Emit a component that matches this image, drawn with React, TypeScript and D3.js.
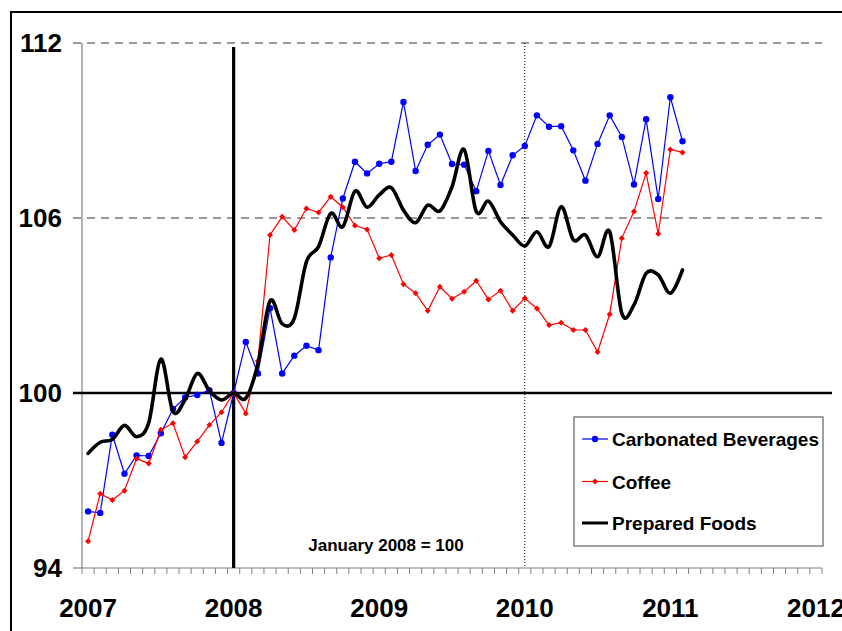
import React from "react";
import * as d3 from "d3";

const years = ["2007", "2008", "2009", "2010", "2011", "2012"];
const yTicks = [94, 100, 106, 112];
const gridValues = [106, 112];

// Monthly series, Jan 2007 .. Feb 2011 (January 2008 = 100)
const carbonated = [
  95.94, 95.89, 98.57, 97.23, 97.86, 97.84, 98.62, 99.45, 99.85, 99.93,
  100.1, 98.29, 100.0, 101.75, 100.67, 102.91, 100.67, 101.28, 101.62, 101.47,
  104.65, 106.67, 107.93, 107.53, 107.86, 107.93, 109.98, 107.61, 108.51, 108.86,
  107.85, 107.83, 106.92, 108.3, 107.13, 108.15, 108.47, 109.52, 109.13, 109.15,
  108.32, 107.28, 108.54, 109.52, 108.78, 107.15, 109.39, 106.65, 110.14, 108.63,
];
const coffee = [
  94.92, 96.55, 96.33, 96.65, 97.75, 97.58, 98.74, 98.96, 97.8, 98.34,
  98.9, 99.34, 100.0, 99.3, 101.1, 105.42, 106.04, 105.59, 106.33, 106.19,
  106.73, 106.37, 105.74, 105.61, 104.62, 104.73, 103.73, 103.42, 102.82, 103.64,
  103.23, 103.47, 103.85, 103.21, 103.51, 102.82, 103.25, 102.9, 102.33, 102.41,
  102.16, 102.16, 101.41, 102.7, 105.31, 106.22, 107.54, 105.46, 108.35, 108.25,
];
const prepared = [
  97.93, 98.31, 98.41, 98.89, 98.5, 98.98, 101.16, 99.36, 99.78, 100.67,
  100.08, 99.76, 100.0, 99.82, 101.0, 103.16, 102.37, 102.56, 104.5, 105.02,
  106.16, 105.7, 106.92, 106.37, 106.79, 107.04, 106.27, 105.84, 106.44, 106.24,
  107.07, 108.35, 106.22, 106.58, 105.87, 105.42, 105.04, 105.53, 105.02, 106.39,
  105.25, 105.42, 104.67, 105.53, 102.73, 103.02, 104.1, 104.05, 103.42, 104.22,
];

const seriesNames = ["Carbonated Beverages", "Coffee", "Prepared Foods"];
const noteText = "January 2008 = 100";

const months = d3.timeMonths(new Date(2007, 0, 1), new Date(2012, 1, 1)); // 61 categories
const monthKeys = months.map((_, i) => String(i));

const FONT = "'Liberation Sans', Arial, sans-serif";

export default function App() {
  const left = 82, right = 822, top = 43, bottom = 568;
  const x = d3.scaleBand<string>().domain(monthKeys).range([left, right]).padding(0);
  const bw = x.bandwidth();
  const cx = (i: number) => (x(String(i)) as number) + bw / 2;
  const y = d3.scaleLinear().domain([94, 112]).range([bottom, top]);

  const lineGen = d3.line<number>().x((_, i) => cx(i)).y((v) => y(v));
  const smoothGen = d3
    .line<number>()
    .x((_, i) => cx(i))
    .y((v) => y(v))
    .curve(d3.curveCardinal.tension(0));

  const diamond = d3.symbol().type(d3.symbolSquare).size(18)() as string;

  const tickXs = monthKeys.map((k) => x(k) as number).concat([right]);
  const jan08 = cx(12);
  const jan10 = cx(36);

  const legX = 574, legY = 417, legW = 249, legH = 129;
  const legRows = [439, 481.5, 523];

  return (
    <svg
      width={842}
      height={631}
      style={{ position: "absolute", left: 0, top: 0, background: "#fff" }}
      fontFamily={FONT}
    >
      <rect x={0} y={0} width={842} height={631} fill="#fff" />
      {/* outer frame */}
      <rect x={11} y={12} width={840} height={630} fill="none" stroke="#000" strokeWidth={2} />

      {/* dashed gridlines */}
      {gridValues.map((v) => (
        <line key={v} x1={73} x2={right} y1={y(v)} y2={y(v)} stroke="#333" strokeWidth={1} strokeDasharray="8,6" />
      ))}

      {/* y axis */}
      <line x1={left} x2={left} y1={top} y2={bottom} stroke="#808080" strokeWidth={1.2} />
      <line x1={73} x2={left} y1={y(94)} y2={y(94)} stroke="#808080" strokeWidth={1.2} />
      {yTicks.map((v) => (
        <text key={v} x={62} y={y(v) + 9} textAnchor="end" fontSize={26} fontWeight="bold" fill="#000">
          {v}
        </text>
      ))}

      {/* x axis */}
      <line x1={left} x2={right} y1={bottom} y2={bottom} stroke="#808080" strokeWidth={1.2} />
      {tickXs.map((tx, i) => (
        <line key={i} x1={tx} x2={tx} y1={bottom} y2={bottom + 6} stroke="#808080" strokeWidth={1} />
      ))}
      {years.map((yr, i) => (
        <text key={yr} x={cx(i * 12)} y={617} textAnchor="middle" fontSize={26} fontWeight="bold" fill="#000">
          {yr}
        </text>
      ))}

      {/* reference lines */}
      <line x1={jan10} x2={jan10} y1={top} y2={bottom} stroke="#000" strokeWidth={1} strokeDasharray="1,2" />
      <line x1={73} x2={832} y1={y(100)} y2={y(100)} stroke="#000" strokeWidth={2.5} />
      <line x1={jan08} x2={jan08} y1={47} y2={bottom} stroke="#000" strokeWidth={3.2} />

      {/* series */}
      <path d={lineGen(carbonated) as string} fill="none" stroke="#0000ff" strokeWidth={1.2} />
      {carbonated.map((v, i) => (
        <circle key={"c" + i} cx={cx(i)} cy={y(v)} r={3.2} fill="#0000ff" />
      ))}
      <path d={lineGen(coffee) as string} fill="none" stroke="#ff0000" strokeWidth={1.2} />
      {coffee.map((v, i) => (
        <path key={"f" + i} d={diamond} transform={`translate(${cx(i)},${y(v)}) rotate(45)`} fill="#ff0000" />
      ))}
      <path d={smoothGen(prepared) as string} fill="none" stroke="#000" strokeWidth={3.6} strokeLinejoin="round" strokeLinecap="round" />

      {/* note */}
      <text x={386} y={551} textAnchor="middle" fontSize={17} fontWeight="bold" fill="#000">
        {noteText}
      </text>

      {/* legend */}
      <rect x={legX} y={legY} width={legW} height={legH} fill="#fff" stroke="#808080" strokeWidth={1.5} />
      <line x1={582} x2={608} y1={legRows[0]} y2={legRows[0]} stroke="#0000ff" strokeWidth={1.2} />
      <circle cx={595} cy={legRows[0]} r={3.2} fill="#0000ff" />
      <line x1={582} x2={608} y1={legRows[1]} y2={legRows[1]} stroke="#ff0000" strokeWidth={1.2} />
      <path d={diamond} transform={`translate(595,${legRows[1]}) rotate(45)`} fill="#ff0000" />
      <line x1={582} x2={608} y1={legRows[2]} y2={legRows[2]} stroke="#000" strokeWidth={3} />
      {seriesNames.map((n, i) => (
        <text key={n} x={612} y={legRows[i] + 7} fontSize={19} fontWeight="bold" fill="#000">
          {n}
        </text>
      ))}
    </svg>
  );
}
